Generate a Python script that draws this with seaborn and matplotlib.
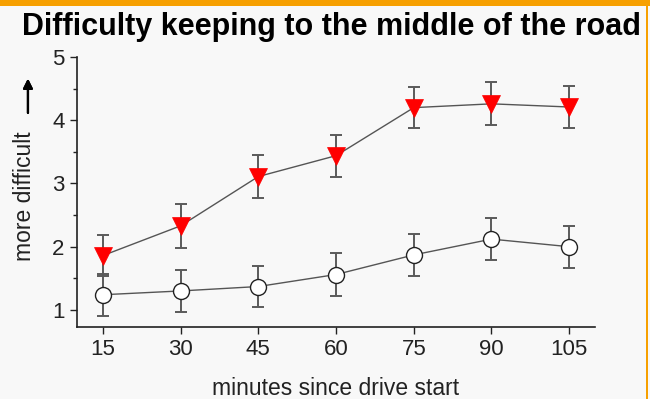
import matplotlib
matplotlib.use("Agg")
import matplotlib.pyplot as plt
from matplotlib.patches import Rectangle
import seaborn as sns
import pandas as pd

# Mean difficulty ratings with standard errors over the drive
minutes = [15, 30, 45, 60, 75, 90, 105]
sleepy_mean = [1.86, 2.33, 3.11, 3.44, 4.20, 4.26, 4.21]
sleepy_err = [0.33, 0.35, 0.34, 0.33, 0.33, 0.34, 0.34]
alert_mean = [1.24, 1.30, 1.37, 1.56, 1.87, 2.12, 2.00]
alert_err = [0.33, 0.33, 0.33, 0.34, 0.33, 0.33, 0.33]
x_ticks = [15, 30, 45, 60, 75, 90, 105]
y_ticks = [1, 2, 3, 4, 5]

sns.set_style("ticks")
plt.rcParams["font.family"] = ["Liberation Sans", "DejaVu Sans"]

bg = "#f8f8f8"
fig = plt.figure(figsize=(6.5, 3.99), dpi=100, facecolor=bg)
ax = fig.add_axes([0.1185, 0.1805, 0.797, 0.6765], facecolor=bg)

df_sleepy = pd.DataFrame({"minutes": minutes, "score": sleepy_mean})
df_alert = pd.DataFrame({"minutes": minutes, "score": alert_mean})

# error bars sit beneath the markers
ax.errorbar(minutes, sleepy_mean, yerr=sleepy_err, fmt="none", ecolor="#5a5a5a",
            elinewidth=1.4, capsize=4.5, capthick=1.4, zorder=2)
ax.errorbar(minutes, alert_mean, yerr=alert_err, fmt="none", ecolor="#5a5a5a",
            elinewidth=1.4, capsize=4.5, capthick=1.4, zorder=2)

sns.lineplot(data=df_sleepy, x="minutes", y="score", ax=ax, color="#555555",
             linewidth=1.0, marker="v", markersize=13, markerfacecolor="#ff0000",
             markeredgecolor="#ff0000", markeredgewidth=0.5, zorder=3)
sns.lineplot(data=df_alert, x="minutes", y="score", ax=ax, color="#555555",
             linewidth=1.0, marker="o", markersize=11.5, markerfacecolor="white",
             markeredgecolor="#222222", markeredgewidth=1.0, zorder=3)

ax.set_xlim(10, 110)
ax.set_ylim(0.73, 5)
ax.set_xticks(x_ticks)
ax.set_yticks(y_ticks)
ax.set_yticks([1.5, 2.5, 3.5, 4.5], minor=True)
ax.tick_params(axis="both", which="major", direction="out", length=5, width=1,
               labelsize=16, colors="#222222", pad=4)
ax.tick_params(axis="y", which="minor", direction="out", length=3, width=1, colors="#222222")
for s in ["top", "right"]:
    ax.spines[s].set_visible(False)
for s in ["left", "bottom"]:
    ax.spines[s].set_linewidth(1.2)
    ax.spines[s].set_color("#222222")

ax.set_xlabel("minutes since drive start", fontsize=16.5, color="#222222", labelpad=12)
ax.set_ylabel("")

fig.text(0.038, 0.509, "more difficult", rotation=90, fontsize=16.5, color="#222222",
         ha="center", va="center")
fig.add_artist(plt.annotate("", xy=(0.043, 0.81), xytext=(0.043, 0.71),
                            xycoords="figure fraction",
                            arrowprops=dict(arrowstyle="-|>", color="black", lw=1.6,
                                            mutation_scale=14)))

fig.text(0.034, 0.912, "Difficulty keeping to the middle of the road", fontsize=22,
         fontweight="bold", color="black", ha="left", va="baseline")

# decorative border strips
fig.add_artist(Rectangle((0, 0.985), 1, 0.015, transform=fig.transFigure,
                         facecolor="#f7a000", edgecolor="none"))
fig.add_artist(Rectangle((0.9935, 0), 0.004, 1, transform=fig.transFigure,
                         facecolor="#f7a000", edgecolor="none"))

fig.savefig("out.png", dpi=100, facecolor=bg)
